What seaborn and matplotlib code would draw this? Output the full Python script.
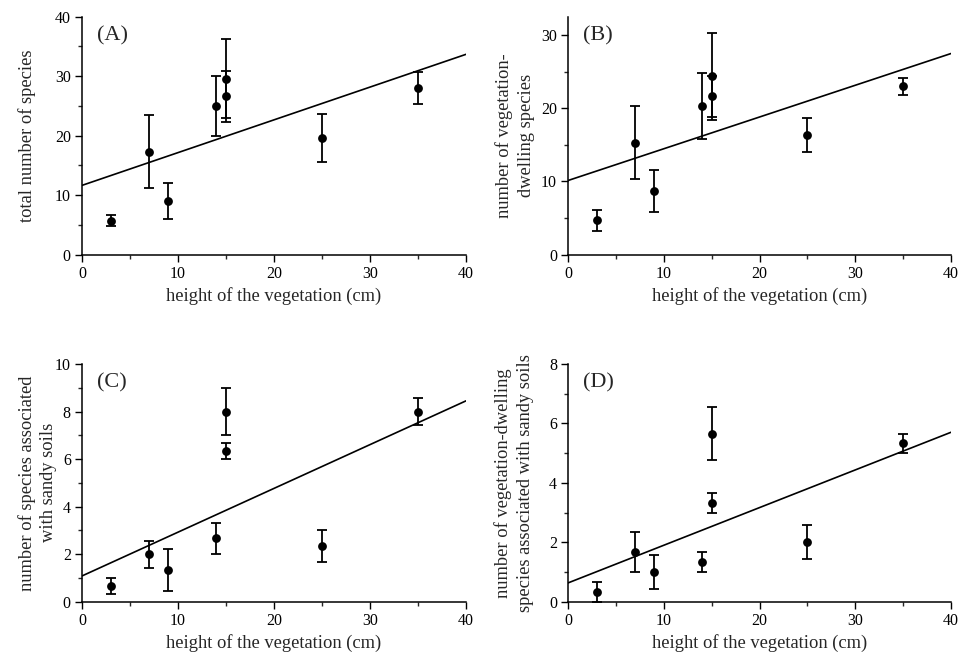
import matplotlib
matplotlib.use("Agg")
import matplotlib.pyplot as plt
from matplotlib.ticker import MultipleLocator
import seaborn as sns
import pandas as pd

height_cm = [3, 7, 9, 14, 15, 15, 25, 35]

total_mean = [5.7, 17.3, 9.0, 25.0, 29.6, 26.6, 19.6, 28.0]
total_err = [0.9, 6.1, 3.0, 5.0, 6.6, 4.3, 4.0, 2.7]

veg_mean = [4.65, 15.3, 8.66, 20.3, 24.35, 21.66, 16.35, 23.0]
veg_err = [1.46, 5.0, 2.85, 4.5, 5.9, 2.8, 2.37, 1.17]

sandy_mean = [0.66, 2.0, 1.33, 2.66, 8.0, 6.33, 2.33, 8.0]
sandy_err = [0.33, 0.57, 0.88, 0.67, 1.0, 0.33, 0.67, 0.57]

vegsandy_mean = [0.33, 1.66, 1.0, 1.33, 5.66, 3.33, 2.0, 5.33]
vegsandy_err = [0.33, 0.67, 0.58, 0.33, 0.88, 0.33, 0.58, 0.33]

panel_labels = ["(A)", "(B)", "(C)", "(D)"]
y_labels = [
    "total number of species",
    "number of vegetation-\ndwelling species",
    "number of species associated\nwith sandy soils",
    "number of vegetation-dwelling\nspecies associated with sandy soils",
]
x_label = "height of the vegetation (cm)"

sns.set_style("ticks")
plt.rcParams["font.family"] = ["Liberation Serif", "DejaVu Serif"]
plt.rcParams["mathtext.fontset"] = "stix"

fig = plt.figure(figsize=(9.6, 6.57), dpi=100)

positions = [
    [0.0854, 0.6126, 0.4000, 0.3620],
    [0.5917, 0.6126, 0.3989, 0.3620],
    [0.0854, 0.0842, 0.4000, 0.3618],
    [0.5917, 0.0842, 0.3989, 0.3618],
]
ylims = [(0, 40), (0, 32.5), (0, 10), (0, 8)]
ymajor = [10, 10, 2, 2]
ylabel_x = [-0.121, -0.087, -0.064, -0.090]
means = [total_mean, veg_mean, sandy_mean, vegsandy_mean]
errs = [total_err, veg_err, sandy_err, vegsandy_err]

for i in range(4):
    ax = fig.add_axes(positions[i])
    ax.set_xlim(0, 40)
    ax.set_ylim(*ylims[i])
    df = pd.DataFrame({"x": height_cm, "y": means[i], "e": errs[i]})
    sns.regplot(data=df, x="x", y="y", ax=ax, scatter=False, ci=None,
                truncate=False, color="black", line_kws={"lw": 1.2})
    ax.errorbar(df["x"], df["y"], yerr=df["e"], fmt="none", ecolor="black",
                elinewidth=1.3, capsize=3.5, capthick=1.3, zorder=3)
    sns.scatterplot(data=df, x="x", y="y", ax=ax, color="black", s=40,
                    edgecolor="black", linewidth=0, zorder=4, clip_on=False)
    ax.set_xlim(0, 40)
    ax.set_ylim(*ylims[i])
    ax.xaxis.set_major_locator(MultipleLocator(10))
    ax.xaxis.set_minor_locator(MultipleLocator(5))
    ax.yaxis.set_major_locator(MultipleLocator(ymajor[i]))
    ax.yaxis.set_minor_locator(MultipleLocator(ymajor[i] / 2))
    ax.tick_params(which="major", direction="out", length=5, width=1,
                   labelsize=11.5, colors="black", pad=3)
    ax.tick_params(which="minor", direction="out", length=3, width=1)
    for s in ["left", "bottom"]:
        ax.spines[s].set_linewidth(1.1)
        ax.spines[s].set_color("black")
    sns.despine(ax=ax)
    ax.set_xlabel(x_label, fontsize=13.3, labelpad=4)
    ax.set_ylabel(y_labels[i], fontsize=13.3, linespacing=1.35)
    ax.yaxis.set_label_coords(ylabel_x[i], 0.5)
    ax.text(0.04, 0.92, panel_labels[i], transform=ax.transAxes,
            fontsize=16, va="center", ha="left")

fig.savefig("out.png", dpi=100, facecolor="white")
